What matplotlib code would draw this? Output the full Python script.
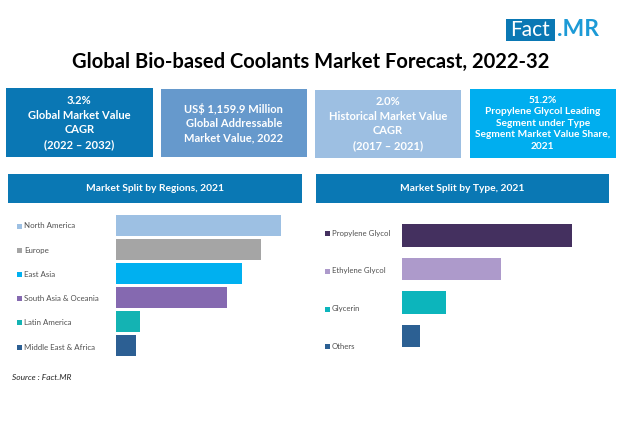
#!/usr/bin/env python3
"""Global bio-based coolants market infographic, laid out in image pixels."""
import matplotlib
matplotlib.use("Agg")
import matplotlib.pyplot as plt
from matplotlib.patches import Rectangle

plt.rcParams["font.family"] = ["Lato", "DejaVu Sans"]

W, H = 620, 422

TITLE = "Global Bio-based Coolants Market Forecast, 2022-32"
SOURCE = "Source : Fact.MR"

BOX_TEXTS = [
    "3.2%\nGlobal Market Value\nCAGR\n(2022 – 2032)",
    "US$ 1,159.9 Million\nGlobal Addressable\nMarket Value, 2022",
    "2.0%\nHistorical Market Value\nCAGR\n(2017 – 2021)",
    "51.2%\nPropylene Glycol Leading\nSegment under Type\nSegment Market Value Share,\n2021",
]
BOX_COLORS = ["#0A77B4", "#6699CC", "#9DBFE2", "#00AEEF"]

REGIONS = ["North America", "Europe", "East Asia", "South Asia & Oceania",
           "Latin America", "Middle East & Africa"]
REGION_SHARE = [27.9, 24.5, 21.3, 18.8, 4.1, 3.4]
REGION_COLORS = ["#9DC0E3", "#A5A5A5", "#00B0F0", "#8569B0", "#14B3B3", "#2C5F93"]

TYPES = ["Propylene Glycol", "Ethylene Glycol", "Glycerin", "Others"]
TYPE_SHARE = [51.2, 29.8, 13.4, 5.5]
TYPE_COLORS = ["#44305F", "#AD9ACB", "#0CB5BC", "#2C6093"]

HEADER = "#0A78B4"
LABEL = "#505050"

fig = plt.figure(figsize=(W / 100, H / 100), dpi=100, facecolor="white")

# overlay in pixel coordinates for boxes and text
bg = fig.add_axes([0, 0, 1, 1])
bg.set_xlim(0, W)
bg.set_ylim(H, 0)
bg.axis("off")


def px_axes(x0, x1, y0, y1):
    ax = fig.add_axes([x0 / W, 1 - y1 / H, (x1 - x0) / W, (y1 - y0) / H])
    ax.axis("off")
    return ax


def rect(x0, y0, x1, y1, color):
    bg.add_patch(Rectangle((x0, y0), x1 - x0, y1 - y0, color=color, lw=0))


bg.text(310.5, 62, TITLE, ha="center", va="center", fontsize=14.5,
        fontweight="bold", color="black")

# logo
rect(506, 19, 555, 41, HEADER)
bg.text(530.5, 30, "Fact", ha="center", va="center", fontsize=15, color="white")
bg.text(557, 30, ".MR", ha="left", va="center", fontsize=16.5, fontweight="bold",
        color="#1C9AD6")

# KPI boxes
box_spans = [(6, 152.5, 88, 157), (161, 306.5, 89, 157),
             (315, 461, 89.5, 157.5), (469.5, 616, 89, 157.5)]
box_sizes = [8, 8, 8, 7.3]
box_spacing = [1.42, 1.38, 1.42, 1.36]
for text, color, (x0, x1, y0, y1), size, sp in zip(BOX_TEXTS, BOX_COLORS, box_spans,
                                                   box_sizes, box_spacing):
    rect(x0, y0, x1, y1, color)
    bg.text((x0 + x1) / 2, (y0 + y1) / 2, text, ha="center", va="center",
            fontsize=size, fontweight="bold", color="white", linespacing=sp,
            multialignment="center")

# panel headers
rect(7.5, 174, 302, 203, HEADER)
bg.text(154.5, 188.5, "Market Split by Regions, 2021", ha="center", va="center",
        fontsize=7.4, fontweight="bold", color="white")
rect(316, 174, 609, 203, HEADER)
bg.text(462, 188.5, "Market Split by Type, 2021", ha="center", va="center",
        fontsize=7.4, fontweight="bold", color="white")

# region bars, 30 share units over 177.6 px
ax_r = px_axes(115.7, 293.3, 213.5, 358)
ax_r.set_xlim(0, 30)
ax_r.set_ylim(len(REGIONS) - 0.5, -0.5)
ax_r.barh(range(len(REGIONS)), REGION_SHARE, height=0.87, color=REGION_COLORS)

# type bars, 60 share units over 199.2 px
ax_t = px_axes(401.7, 600.9, 219, 352.6)
ax_t.set_xlim(0, 60)
ax_t.set_ylim(len(TYPES) - 0.5, -0.5)
ax_t.barh(range(len(TYPES)), TYPE_SHARE, height=0.68, color=TYPE_COLORS)

# legend-style labels sit in their own column, not lined up with the bars
region_label_y = [226, 250, 274.5, 298.5, 322.5, 347]
for name, color, y in zip(REGIONS, REGION_COLORS, region_label_y):
    rect(16.5, y - 2.5, 21.5, y + 2.5, color)
    bg.text(24, y, name, ha="left", va="center", fontsize=5.7, color=LABEL)

type_label_y = [233.3, 271, 309, 346.7]
for name, color, y in zip(TYPES, TYPE_COLORS, type_label_y):
    rect(324.5, y - 2.5, 329.5, y + 2.5, color)
    bg.text(331.5, y, name, ha="left", va="center", fontsize=5.6, color=LABEL)

bg.text(12.5, 377, SOURCE, ha="left", va="center", fontsize=6, fontstyle="italic",
        color="#262626")

fig.savefig("out.png", dpi=100)
